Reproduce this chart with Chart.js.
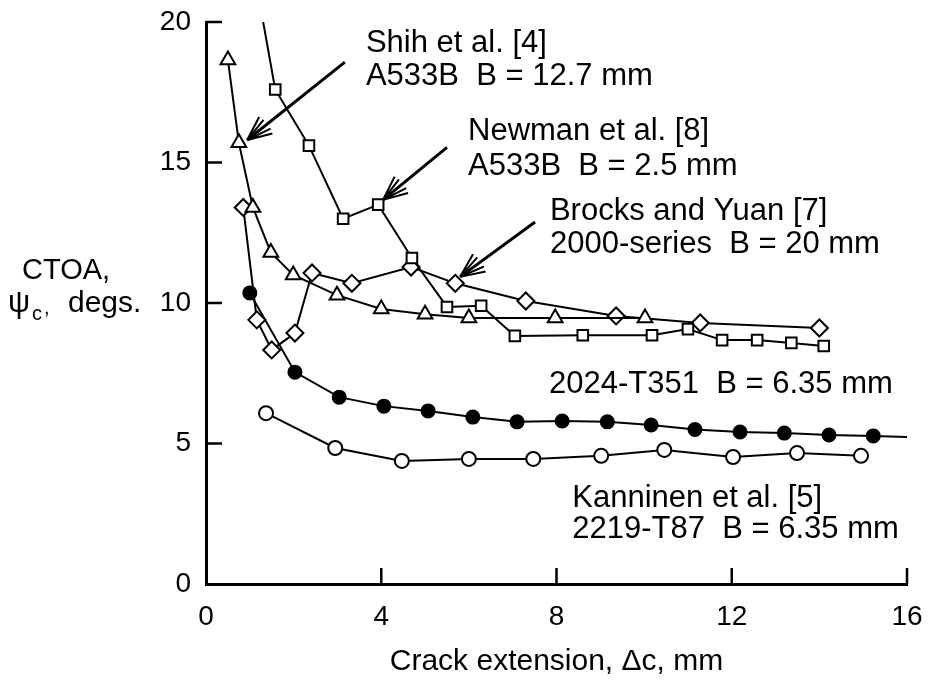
<!DOCTYPE html>
<html lang="en">
<head>
    <meta charset="UTF-8">
    <title>CTOA vs crack extension</title>
    <style>
        body {
            margin: 0;
            background-color: #ffffff;
        }
        .chart-box {
            width: 928px;
            height: 682px;
        }
    </style>
</head>
<body>
    <div class="chart-box">
        <canvas id="ctoaChart" width="928" height="682"></canvas>
    </div>

    <script src="https://cdn.jsdelivr.net/npm/chart.js"></script>

    <script>
        // Shih et al. [4]  A533B  B = 12.7 mm  (open squares)
        const shihX = [1.19, 1.58, 2.35, 3.13, 3.93, 4.70, 5.50, 6.28, 7.05, 8.60, 10.18, 11.00, 11.78, 12.58, 13.36, 14.10];
        const shihY = [21.0, 17.6, 15.6, 13.0, 13.5, 11.6, 9.86, 9.90, 8.83, 8.85, 8.85, 9.07, 8.68, 8.68, 8.58, 8.47];

        // Newman et al. [8]  A533B  B = 2.5 mm  (open triangles)
        const newmanX = [0.50, 0.75, 1.07, 1.48, 1.99, 2.99, 4.00, 5.00, 6.00, 7.97, 10.02];
        const newmanY = [18.65, 15.7, 13.4, 11.8, 11.0, 10.28, 9.79, 9.60, 9.47, 9.47, 9.47];

        // Brocks and Yuan [7]  2000-series  B = 20 mm  (open diamonds)
        const brocksX = [0.85, 1.16, 1.50, 2.03, 2.42, 3.33, 4.68, 5.69, 7.30, 9.36, 11.28, 14.00];
        const brocksY = [13.4, 9.40, 8.33, 8.93, 11.07, 10.7, 11.28, 10.7, 10.07, 9.54, 9.29, 9.11];

        // 2024-T351  B = 6.35 mm  (filled circles)
        const t351X = [1.00, 2.03, 3.04, 4.06, 5.07, 6.09, 7.10, 8.13, 9.16, 10.16, 11.16, 12.19, 13.20, 14.22, 15.23, 16.0];
        const t351Y = [10.36, 7.54, 6.65, 6.33, 6.16, 5.94, 5.77, 5.80, 5.77, 5.66, 5.50, 5.41, 5.37, 5.30, 5.27, 5.23];

        // Kanninen et al. [5]  2219-T87  B = 6.35 mm  (open circles)
        const kannX = [1.37, 2.95, 4.47, 6.00, 7.47, 9.02, 10.46, 12.03, 13.49, 14.95];
        const kannY = [6.08, 4.84, 4.38, 4.45, 4.45, 4.56, 4.77, 4.52, 4.66, 4.56];

        const xTicks = [0, 4, 8, 12, 16];
        const yTicks = [0, 5, 10, 15, 20];

        // label text: [x, y (baseline), text] in data units
        const labels = [
            [3.65, 18.93, 'Shih et al. [4]'],
            [3.65, 17.76, 'A533B  B = 12.7 mm'],
            [5.98, 15.80, 'Newman et al. [8]'],
            [5.98, 14.56, 'A533B  B = 2.5 mm'],
            [7.85, 12.95, 'Brocks and Yuan [7]'],
            [7.85, 11.78, '2000-series  B = 20 mm'],
            [7.83, 6.80, '2024-T351  B = 6.35 mm'],
            [8.36, 2.74, 'Kanninen et al. [5]'],
            [8.36, 1.64, '2219-T87  B = 6.35 mm']
        ];

        // arrows: [fromX, fromY, toX, toY] in data units
        const arrows = [
            [3.17, 18.57, 0.94, 15.80],
            [5.50, 15.54, 4.04, 13.67],
            [7.51, 12.88, 5.80, 10.93]
        ];

        const FONT = "'Liberation Sans', Arial, sans-serif";

        function toPoints(xs, ys) {
            return xs.map((x, i) => ({ x: x, y: ys[i] }));
        }

        // no marker for points that only carry the line outside the axes
        function markerSize(r) {
            return (ctx) => {
                const p = ctx.raw;
                if (!p) return r;
                return (p.y > 20 || p.x >= 16) ? 0 : r;
            };
        }

        function series(xs, ys, style, r, fill) {
            return {
                data: toPoints(xs, ys),
                borderColor: '#000000',
                borderWidth: 2,
                pointStyle: style,
                pointRadius: markerSize(r),
                pointHoverRadius: markerSize(r),
                pointBorderWidth: 2,
                pointBorderColor: '#000000',
                pointBackgroundColor: fill,
                tension: 0,
                fill: false
            };
        }

        // fixed axis boxes, no extra room for overhanging tick labels
        function fixBox(size, key) {
            return (s) => {
                s[key] = size;
                s.paddingLeft = 0;
                s.paddingRight = 0;
                s.paddingTop = 0;
                s.paddingBottom = 0;
            };
        }

        const extras = {
            id: 'extras',
            afterDraw(chart) {
                const ctx = chart.ctx;
                const xs = chart.scales.x;
                const ys = chart.scales.y;
                const area = chart.chartArea;

                ctx.save();
                ctx.strokeStyle = '#000000';
                ctx.fillStyle = '#000000';

                // inward tick marks
                ctx.lineWidth = 2.5;
                ctx.beginPath();
                xTicks.forEach(v => {
                    if (v === 0) return;
                    const px = xs.getPixelForValue(v);
                    ctx.moveTo(px, area.bottom);
                    ctx.lineTo(px, area.bottom - 16);
                });
                yTicks.forEach(v => {
                    if (v === 0) return;
                    const py = ys.getPixelForValue(v);
                    ctx.moveTo(area.left, py);
                    ctx.lineTo(area.left + 16, py);
                });
                ctx.stroke();

                // arrows with fanned heads
                arrows.forEach(a => {
                    const x0 = xs.getPixelForValue(a[0]), y0 = ys.getPixelForValue(a[1]);
                    const x1 = xs.getPixelForValue(a[2]), y1 = ys.getPixelForValue(a[3]);
                    const ang = Math.atan2(y0 - y1, x0 - x1);
                    ctx.lineWidth = 3;
                    ctx.beginPath();
                    ctx.moveTo(x0, y0);
                    ctx.lineTo(x1, y1);
                    ctx.stroke();
                    ctx.lineWidth = 2;
                    ctx.beginPath();
                    [-0.42, -0.22, 0.22, 0.42].forEach(d => {
                        ctx.moveTo(x1, y1);
                        ctx.lineTo(x1 + 26 * Math.cos(ang + d), y1 + 26 * Math.sin(ang + d));
                    });
                    ctx.stroke();
                });

                // curve labels
                ctx.font = '31px ' + FONT;
                ctx.textAlign = 'left';
                ctx.textBaseline = 'alphabetic';
                labels.forEach(l => {
                    ctx.fillText(l[2], xs.getPixelForValue(l[0]), ys.getPixelForValue(l[1]));
                });

                // y axis title (two lines, with subscript)
                ctx.font = '29px ' + FONT;
                ctx.fillText('CTOA,', 22, 279);
                ctx.font = '31px ' + FONT;
                ctx.fillText('\u03C8', 8, 312);
                ctx.font = '20px ' + FONT;
                ctx.fillText('c', 32, 320);
                ctx.fillText(',', 44, 314);
                ctx.font = '30px ' + FONT;
                ctx.fillText('degs.', 68, 312);

                ctx.restore();
            }
        };

        new Chart(document.getElementById('ctoaChart'), {
            type: 'line',
            data: {
                datasets: [
                    series(shihX, shihY, 'rect', 7.5, '#ffffff'),
                    series(newmanX, newmanY, 'triangle', 8.5, '#ffffff'),
                    series(brocksX, brocksY, 'rectRot', 8.5, '#ffffff'),
                    series(t351X, t351Y, 'circle', 6.5, '#000000'),
                    series(kannX, kannY, 'circle', 7, '#ffffff')
                ]
            },
            options: {
                responsive: false,
                animation: false,
                layout: { padding: { top: 22, right: 21, left: 0, bottom: 0 } },
                plugins: {
                    legend: { display: false },
                    tooltip: { enabled: false }
                },
                scales: {
                    x: {
                        type: 'linear',
                        min: 0,
                        max: 16,
                        afterBuildTicks: (s) => { s.ticks = xTicks.map(v => ({ value: v })); },
                        afterFit: fixBox(98, 'height'),
                        grid: { display: false, drawTicks: false },
                        border: { display: true, color: '#000000', width: 3 },
                        ticks: {
                            color: '#000000',
                            padding: 16,
                            maxRotation: 0,
                            font: { family: FONT, size: 28 }
                        },
                        title: {
                            display: true,
                            text: 'Crack extension, \u0394c, mm',
                            color: '#000000',
                            padding: { top: 0, bottom: 2 },
                            font: { family: FONT, size: 30 }
                        }
                    },
                    y: {
                        type: 'linear',
                        min: 0,
                        max: 20,
                        afterBuildTicks: (s) => { s.ticks = yTicks.map(v => ({ value: v })); },
                        afterFit: fixBox(206, 'width'),
                        grid: { display: false, drawTicks: false },
                        border: { display: true, color: '#000000', width: 3 },
                        ticks: {
                            color: '#000000',
                            padding: 15,
                            font: { family: FONT, size: 28 }
                        }
                    }
                }
            },
            plugins: [extras]
        });
    </script>
</body>
</html>
